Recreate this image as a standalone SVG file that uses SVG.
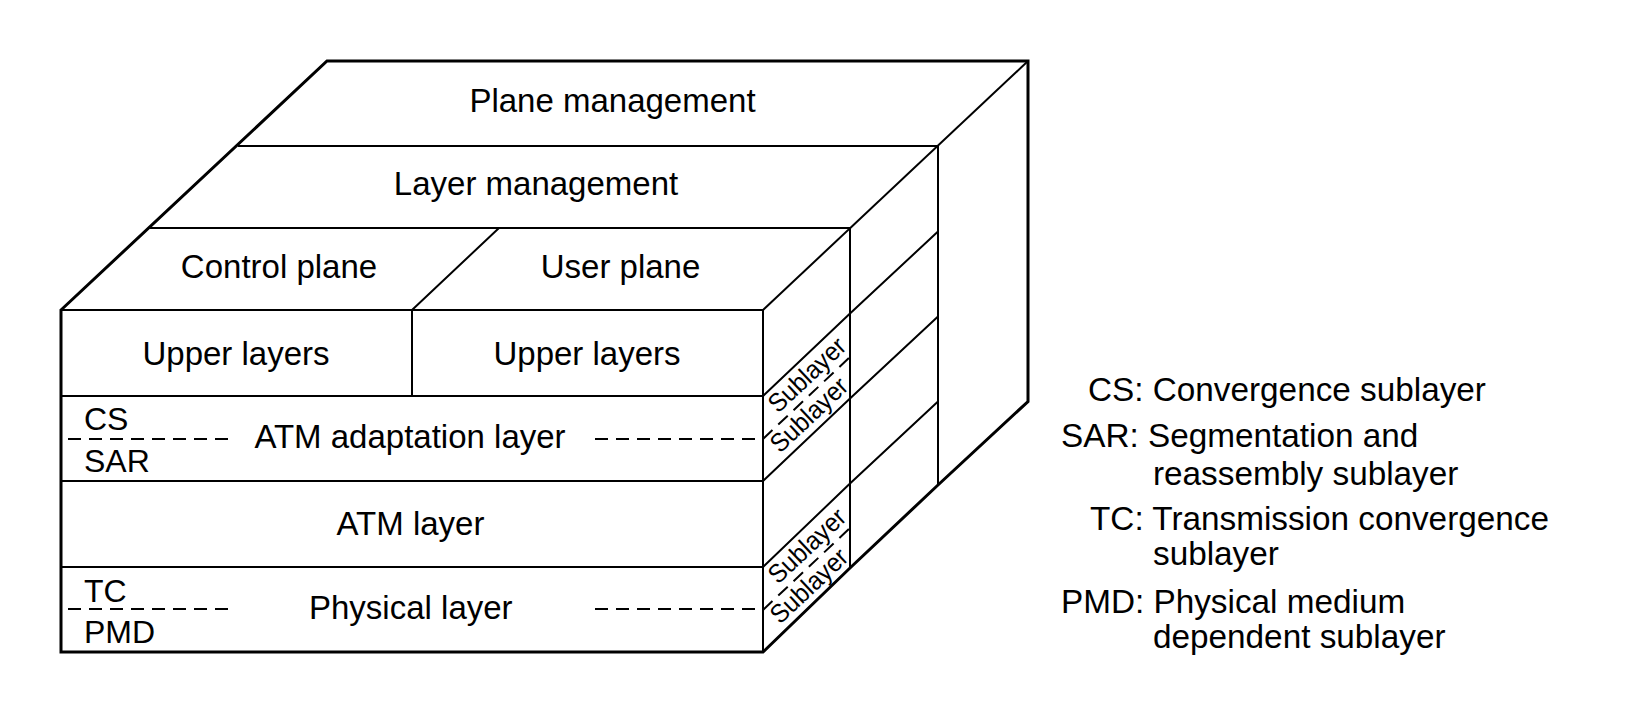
<svg xmlns="http://www.w3.org/2000/svg" width="1641" height="726" viewBox="0 0 1641 726">
<style>
.o{fill:none;stroke:#000;stroke-width:3;stroke-linejoin:miter}
.l{fill:none;stroke:#000;stroke-width:2}
.d{fill:none;stroke:#000;stroke-width:2;stroke-dasharray:13 8}
text{font-family:"Liberation Sans",Arial,Helvetica,sans-serif;fill:#000}
.t{font-size:33px;text-anchor:middle}
.s{font-size:32px}
.g{font-size:33.3px}
.sb{font-size:26px}
</style>
<rect width="1641" height="726" fill="#fff"/>
<g id="edges">
<path class="l" d="M238 146H938M150 228H850M61 310H763M61 396H763M61 481H763M61 567H763"/>
<path class="l" d="M412 310V396M412 310L499 228"/>
<path class="l" d="M763 310V652M850 228V568M938 146V485"/>
<path class="l" d="M763 310L1028 61"/>
<path class="l" d="M763 396L850 313.5L938 231.5M763 481L850 398.5L938 316.5M763 567L850 483.5L938 401.5"/>
<path class="d" d="M68 439H235M595 439H763M68 609H235M595 609H763"/>
<path class="d" d="M763 439L850 357M763 610L850 528"/>
<path class="o" d="M61 310L327 61H1028V401.5L938 485L850 568L763 652H61Z"/>
</g>
<g id="plane-management"><text class="t" x="612.5" y="112">Plane management</text></g>
<g id="layer-management"><text class="t" x="536" y="195">Layer management</text></g>
<g id="control-plane"><text class="t" x="279" y="278">Control plane</text></g>
<g id="user-plane"><text class="t" x="620.5" y="278">User plane</text></g>
<g id="upper-layers-control"><text class="t" x="236" y="365">Upper layers</text></g>
<g id="upper-layers-user"><text class="t" x="587" y="365">Upper layers</text></g>
<g id="aal">
<text class="t" x="410" y="448">ATM adaptation layer</text>
<text class="s" x="84" y="430">CS</text>
<text class="s" x="84" y="472">SAR</text>
<text class="sb" transform="translate(778 414) rotate(-43.2)" textLength="96" lengthAdjust="spacingAndGlyphs">Sublayer</text>
<text class="sb" transform="translate(780 454) rotate(-43.2)" textLength="96" lengthAdjust="spacingAndGlyphs">Sublayer</text>
</g>
<g id="atm-layer"><text class="t" x="410.5" y="535">ATM layer</text></g>
<g id="physical-layer">
<text class="t" x="410.8" y="619">Physical layer</text>
<text class="s" x="84" y="602">TC</text>
<text class="s" x="84" y="643">PMD</text>
<text class="sb" transform="translate(778 585) rotate(-43.2)" textLength="96" lengthAdjust="spacingAndGlyphs">Sublayer</text>
<text class="sb" transform="translate(780 625) rotate(-43.2)" textLength="96" lengthAdjust="spacingAndGlyphs">Sublayer</text>
</g>
<g id="legend">
<text class="g" x="1088" y="401">CS: Convergence sublayer</text>
<text class="g" x="1061" y="447">SAR: Segmentation and</text>
<text class="g" x="1153" y="485">reassembly sublayer</text>
<text class="g" x="1090" y="530">TC: Transmission convergence</text>
<text class="g" x="1153" y="565">sublayer</text>
<text class="g" x="1061" y="613">PMD: Physical medium</text>
<text class="g" x="1153" y="648">dependent sublayer</text>
</g>
</svg>
